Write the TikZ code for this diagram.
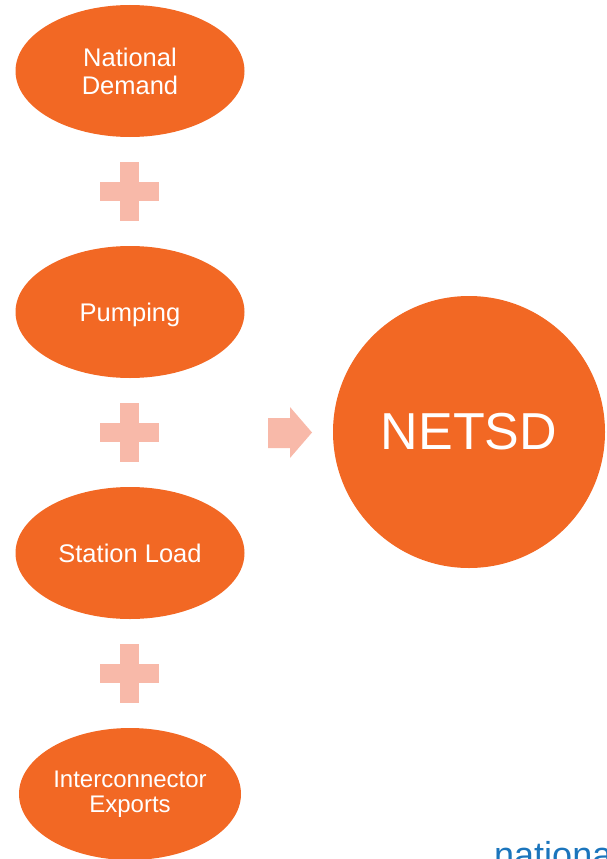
\documentclass[tikz,border=0pt]{standalone}
\usepackage{fontspec}
\setmainfont{Liberation Sans}
\usetikzlibrary{shapes.geometric}
\definecolor{orng}{HTML}{F26824}
\definecolor{pnk}{HTML}{F8B9A9}
\definecolor{ngblue}{HTML}{1B75BC}
\tikzset{
  oval/.style={ellipse, fill=orng, draw=none, inner sep=0pt, text=white, align=center,
    minimum width=229pt, minimum height=132pt, font=\fontsize{25.5}{28}\selectfont},
  bigdot/.style={circle, fill=orng, draw=none, inner sep=0pt, text=white,
    minimum size=272pt, font=\fontsize{52}{60}\selectfont},
  plusmark/.style={fill=pnk, draw=none},
}
\newcommand{\plusat}[2]{%
  \fill[plusmark] (#1-9.5,#2-29.5) rectangle (#1+9.5,#2+29.5);
  \fill[plusmark] (#1-29.5,#2-9.5) rectangle (#1+29.5,#2+9.5);}
\begin{document}
\begin{tikzpicture}[x=1pt,y=-1pt]
\clip (0,0) rectangle (606,859);
\useasboundingbox (0,0) rectangle (606,859);
\node[oval] (nd) at (130,71) {National\\Demand};
\node[oval, text depth=0pt] (pu) at (130,312) {Pumping};
\node[oval] (sl) at (130,553) {Station Load};
\node[oval, minimum width=222pt, font=\fontsize{24}{25}\selectfont] (ie) at (130,794) {Interconnector\\Exports};
\node[bigdot] (ne) at (469,432) {NETSD};
\plusat{129.5}{191.5}
\plusat{129.5}{432.5}
\plusat{129.5}{673}
\fill[pnk] (268,418) -- (290,418) -- (290,407) -- (312,432.5) -- (290,458) -- (290,448) -- (268,448) -- cycle;
\node[anchor=base west, inner sep=0pt, text=ngblue, font=\fontsize{36}{40}\selectfont] (ng) at (494,867) {national};
\end{tikzpicture}
\end{document}
